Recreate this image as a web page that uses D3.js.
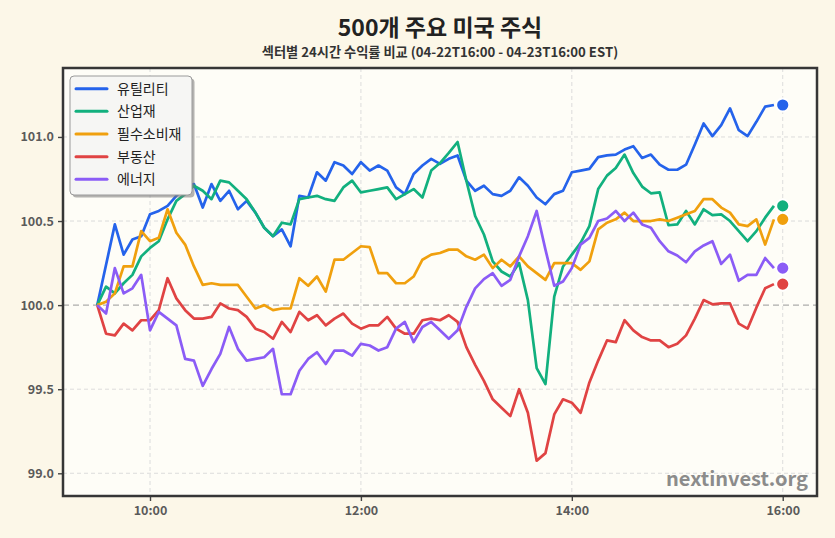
<!DOCTYPE html>
<html>
<head>
<meta charset="utf-8">
<script src="https://cdn.jsdelivr.net/npm/d3@7"></script>
<style>
  body { margin: 0; background: #fcf7e8; }
  text { font-family: "Noto Sans CJK KR", "Noto Sans", sans-serif; }
</style>
</head>
<body>
<div id="chart"></div>
<script>
// sector names and colours
const sectors = ["유틸리티", "산업재", "필수소비재", "부동산", "에너지"];
const colors = ["#2563eb", "#12b07e", "#f0a00e", "#e04343", "#8b5cf6"];

// 5 minute closes, 09:30 .. 15:55 (index 0 = 09:30)
const utilities = [100.00, 100.24, 100.48, 100.30, 100.39, 100.41, 100.54, 100.56, 100.59, 100.65,
  100.70, 100.72, 100.58, 100.72, 100.62, 100.68, 100.57, 100.62, 100.55, 100.46,
  100.41, 100.45, 100.35, 100.65, 100.64, 100.79, 100.74, 100.85, 100.83, 100.78,
  100.85, 100.80, 100.83, 100.80, 100.70, 100.66, 100.78, 100.83, 100.87, 100.84,
  100.87, 100.89, 100.74, 100.68, 100.71, 100.66, 100.65, 100.68, 100.76, 100.71,
  100.64, 100.60, 100.66, 100.68, 100.79, 100.80, 100.81, 100.88, 100.89, 100.895,
  100.925, 100.945, 100.875, 100.895, 100.835, 100.805, 100.805, 100.835, 100.955, 101.08,
  101.005, 101.07, 101.17, 101.04, 101.005, 101.09, 101.18, 101.19];
const industrials = [100.00, 100.11, 100.07, 100.13, 100.18, 100.29, 100.34, 100.38, 100.51, 100.62,
  100.66, 100.71, 100.68, 100.63, 100.74, 100.73, 100.68, 100.63, 100.55, 100.46,
  100.41, 100.49, 100.48, 100.63, 100.64, 100.65, 100.63, 100.62, 100.70, 100.74,
  100.67, 100.68, 100.69, 100.70, 100.63, 100.66, 100.69, 100.64, 100.80, 100.845,
  100.905, 100.97, 100.74, 100.53, 100.42, 100.26, 100.20, 100.17, 100.25, 100.03,
  99.625, 99.53, 100.05, 100.23, 100.30, 100.37, 100.47, 100.69, 100.77, 100.815,
  100.895, 100.785, 100.705, 100.665, 100.67, 100.475, 100.48, 100.56, 100.48, 100.57,
  100.535, 100.54, 100.50, 100.44, 100.38, 100.44, 100.52, 100.59];
const staples = [100.00, 100.02, 100.07, 100.23, 100.23, 100.44, 100.38, 100.40, 100.57, 100.43,
  100.36, 100.23, 100.12, 100.13, 100.12, 100.12, 100.12, 100.05, 99.98, 100.00,
  99.97, 99.98, 99.98, 100.16, 100.115, 100.17, 100.08, 100.27, 100.27, 100.31,
  100.35, 100.345, 100.19, 100.19, 100.13, 100.13, 100.17, 100.27, 100.30, 100.31,
  100.33, 100.33, 100.29, 100.27, 100.30, 100.22, 100.27, 100.23, 100.29, 100.23,
  100.19, 100.15, 100.25, 100.25, 100.25, 100.21, 100.26, 100.45, 100.49, 100.51,
  100.55, 100.50, 100.50, 100.50, 100.51, 100.50, 100.52, 100.54, 100.56, 100.63,
  100.63, 100.58, 100.55, 100.48, 100.47, 100.51, 100.36, 100.51];
const realEstate = [100.00, 99.83, 99.82, 99.89, 99.85, 99.91, 99.91, 99.97, 100.16, 100.04,
  99.97, 99.92, 99.92, 99.93, 100.01, 99.98, 99.97, 99.93, 99.86, 99.84,
  99.80, 99.90, 99.84, 99.96, 99.91, 99.94, 99.88, 99.92, 99.95, 99.89,
  99.86, 99.88, 99.88, 99.93, 99.86, 99.83, 99.83, 99.91, 99.92, 99.91,
  99.94, 99.90, 99.75, 99.645, 99.55, 99.44, 99.39, 99.34, 99.50, 99.36,
  99.075, 99.12, 99.35, 99.44, 99.42, 99.36, 99.54, 99.67, 99.79, 99.78,
  99.91, 99.85, 99.81, 99.79, 99.79, 99.75, 99.77, 99.82, 99.92, 100.03,
  100.005, 100.01, 100.01, 99.89, 99.86, 99.985, 100.10, 100.125];
const energy = [100.00, 99.95, 100.22, 100.07, 100.10, 100.18, 99.85, 99.96, 99.92, 99.88,
  99.68, 99.67, 99.52, 99.62, 99.71, 99.87, 99.74, 99.67, 99.68, 99.69,
  99.74, 99.47, 99.47, 99.61, 99.68, 99.72, 99.65, 99.73, 99.73, 99.70,
  99.77, 99.76, 99.73, 99.75, 99.86, 99.90, 99.78, 99.87, 99.90, 99.85,
  99.80, 99.85, 99.99, 100.10, 100.155, 100.19, 100.115, 100.15, 100.29, 100.41,
  100.56, 100.33, 100.115, 100.14, 100.22, 100.36, 100.40, 100.50, 100.515, 100.56,
  100.50, 100.55, 100.48, 100.46, 100.38, 100.32, 100.295, 100.255, 100.32, 100.355,
  100.38, 100.245, 100.30, 100.145, 100.18, 100.18, 100.28, 100.22];

const yTicks = [99.0, 99.5, 100.0, 100.5, 101.0];
const xTickLabels = ["10:00", "12:00", "14:00", "16:00"];

const seriesValues = [utilities, industrials, staples, realEstate, energy];

// build time stamps
const parseTime = d3.timeParse("%H:%M");
const start = parseTime("09:30");
const closeTime = parseTime("16:00");
const series = sectors.map((name, k) => ({
  name: name,
  color: colors[k],
  values: seriesValues[k].map((v, i) => ({t: d3.timeMinute.offset(start, 5 * i), v: v}))
}));

// layout
const W = 835, H = 538;
const margin = {top: 68, right: 18, bottom: 42, left: 63},
  width = W - margin.left - margin.right,
  height = H - margin.top - margin.bottom;

const svg = d3.select("#chart")
  .append("svg")
  .attr("width", W)
  .attr("height", H);

svg.append("rect").attr("width", W).attr("height", H).attr("fill", "#fcf7e8");

const g = svg.append("g")
  .attr("transform", `translate(${margin.left}, ${margin.top})`);

// x with 5% padding like matplotlib
const pad = 19.5;
const x = d3.scaleTime()
  .domain([d3.timeSecond.offset(start, -pad * 60), d3.timeSecond.offset(closeTime, pad * 60)])
  .range([0, width]);

const y = d3.scaleLinear()
  .domain([98.865, 101.41])
  .range([height, 0]);

g.append("rect")
  .attr("width", width)
  .attr("height", height)
  .attr("fill", "#fefdf7");

const xTicks = xTickLabels.map(s => parseTime(s));

// grid
g.append("g")
  .selectAll("line")
  .data(xTicks)
  .join("line")
    .attr("x1", d => x(d)).attr("x2", d => x(d))
    .attr("y1", 0).attr("y2", height)
    .attr("stroke", "#d8d8d8")
    .attr("stroke-width", 0.9)
    .attr("stroke-dasharray", "4,3");

g.append("g")
  .selectAll("line")
  .data(yTicks.filter(d => d !== 100))
  .join("line")
    .attr("x1", 0).attr("x2", width)
    .attr("y1", d => y(d)).attr("y2", d => y(d))
    .attr("stroke", "#d8d8d8")
    .attr("stroke-width", 0.9)
    .attr("stroke-dasharray", "4,3");

g.append("line")
  .attr("x1", 0).attr("x2", width)
  .attr("y1", y(100)).attr("y2", y(100))
  .attr("stroke", "#9a9a9a")
  .attr("stroke-width", 1.3)
  .attr("stroke-dasharray", "6,4")
  .attr("opacity", 0.8);

// lines
const line = d3.line()
  .x(d => x(d.t))
  .y(d => y(d.v));

g.append("g")
  .selectAll("path")
  .data(series)
  .join("path")
    .attr("d", d => line(d.values))
    .attr("fill", "none")
    .attr("stroke", d => d.color)
    .attr("stroke-width", 2.7)
    .attr("stroke-linejoin", "round");

// end dots at close
g.append("g")
  .selectAll("circle")
  .data(series)
  .join("circle")
    .attr("cx", x(closeTime))
    .attr("cy", d => y(d.values[d.values.length - 1].v))
    .attr("r", 6.5)
    .attr("fill", d => d.color)
    .attr("stroke", "#ffffff")
    .attr("stroke-width", 1.8);

// axes
const yAxis = g.append("g")
  .call(d3.axisLeft(y).tickValues(yTicks).tickFormat(d3.format(".1f")).tickSize(5).tickPadding(4));
const xAxis = g.append("g")
  .attr("transform", `translate(0, ${height})`)
  .call(d3.axisBottom(x).tickValues(xTicks).tickFormat(d3.timeFormat("%H:%M")).tickSize(5).tickPadding(5));

[xAxis, yAxis].forEach(a => {
  a.select(".domain").remove();
  a.selectAll(".tick line").attr("stroke", "#444").attr("stroke-width", 1.4);
  a.selectAll(".tick text")
    .attr("fill", "#5a5a5a")
    .attr("font-size", "12.5px")
    .attr("font-weight", 700)
    .style("font-family", "'Noto Sans CJK KR', 'Noto Sans', sans-serif");
});

// frame
g.append("rect")
  .attr("width", width)
  .attr("height", height)
  .attr("fill", "none")
  .attr("stroke", "#363636")
  .attr("stroke-width", 2.5);

// watermark
g.append("text")
  .attr("x", width - 9)
  .attr("y", height - 10)
  .attr("text-anchor", "end")
  .attr("font-size", "20px")
  .attr("font-weight", 700)
  .attr("fill", "#808080")
  .attr("opacity", 0.9)
  .text("nextinvest.org");

// legend
const lg = svg.append("g").attr("transform", "translate(70, 76)");
lg.append("rect")
  .attr("x", 2.5).attr("y", 2.5)
  .attr("width", 122).attr("height", 119)
  .attr("rx", 4)
  .attr("fill", "#777")
  .attr("opacity", 0.55);
lg.append("rect")
  .attr("width", 122).attr("height", 119)
  .attr("rx", 4)
  .attr("fill", "#f6f6f4")
  .attr("stroke", "#9a9a9a")
  .attr("stroke-width", 1);

const items = lg.selectAll(".item")
  .data(series)
  .join("g")
    .attr("class", "item")
    .attr("transform", (d, i) => `translate(0, ${12.7 + i * 22.65})`);
items.append("line")
  .attr("x1", 6).attr("x2", 37)
  .attr("stroke", d => d.color)
  .attr("stroke-width", 3)
  .attr("stroke-linecap", "round");
items.append("text")
  .attr("x", 47)
  .attr("y", 5)
  .attr("font-size", "14px")
  .attr("fill", "#222")
  .text(d => d.name);

// titles
svg.append("text")
  .attr("x", margin.left + width / 2)
  .attr("y", 36)
  .attr("text-anchor", "middle")
  .attr("font-size", "23px")
  .attr("font-weight", 700)
  .attr("fill", "#222")
  .text("500개 주요 미국 주식");

svg.append("text")
  .attr("x", margin.left + width / 2)
  .attr("y", 57)
  .attr("text-anchor", "middle")
  .attr("font-size", "13.2px")
  .attr("font-weight", 700)
  .attr("fill", "#333")
  .text("섹터별 24시간 수익률 비교 (04-22T16:00 - 04-23T16:00 EST)");
</script>
</body>
</html>
